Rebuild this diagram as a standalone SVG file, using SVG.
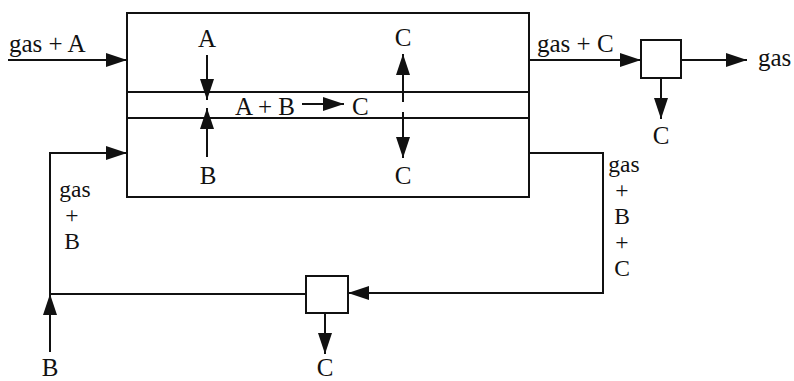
<svg xmlns="http://www.w3.org/2000/svg" width="794" height="381" viewBox="0 0 794 381">
<style>
.ln{fill:none;stroke:#111;stroke-width:2}
.bx{fill:#fff;stroke:#111;stroke-width:2}
text{font-family:'Liberation Serif','Times New Roman',serif;font-size:25px;fill:#111}
.m{text-anchor:middle}
.st{font-size:23.5px}
</style>
<defs>
<marker id="ah" markerUnits="userSpaceOnUse" markerWidth="22" markerHeight="16" refX="21" refY="8" orient="auto" viewBox="0 0 22 16">
<path d="M0,1 L21,8 L0,15 z" fill="#111"/>
</marker>
</defs>
<g id="reactor">
<rect class="bx" x="127" y="13" width="402" height="184"/>
<line class="ln" x1="127" y1="92" x2="529" y2="92"/>
<line class="ln" x1="127" y1="118" x2="529" y2="118"/>
</g>
<g id="separator1"><rect class="bx" x="641" y="40" width="40" height="38"/></g>
<g id="separator2"><rect class="bx" x="306" y="276" width="42" height="37"/></g>
<g id="connectors">
<path class="ln" d="M8,60 H127" marker-end="url(#ah)"/>
<path class="ln" d="M207,55 V100" marker-end="url(#ah)"/>
<path class="ln" d="M207,157 V108" marker-end="url(#ah)"/>
<path class="ln" d="M302,104 H344" marker-end="url(#ah)"/>
<path class="ln" d="M403,102 V54" marker-end="url(#ah)"/>
<path class="ln" d="M403,112 V158" marker-end="url(#ah)"/>
<path class="ln" d="M529,60 H641" marker-end="url(#ah)"/>
<path class="ln" d="M681,60 H747" marker-end="url(#ah)"/>
<path class="ln" d="M661,78 V119" marker-end="url(#ah)"/>
<path class="ln" d="M529,153 H603 V293 H348" marker-end="url(#ah)"/>
<path class="ln" d="M325,313 V354" marker-end="url(#ah)"/>
<path class="ln" d="M306,294 H50 V153 H127" marker-end="url(#ah)"/>
<path class="ln" d="M50,352 V294" marker-end="url(#ah)"/>
</g>
<g id="labels">
<text x="9" y="52">gas + A</text>
<text class="m" x="207" y="47">A</text>
<text class="m" x="208" y="184">B</text>
<text x="235" y="115">A + B</text>
<text x="352" y="115">C</text>
<text class="m" x="403" y="46">C</text>
<text class="m" x="403" y="184">C</text>
<text x="537" y="52">gas + C</text>
<text x="758" y="66">gas</text>
<text class="m" x="661" y="144">C</text>
<text class="m st"><tspan x="624" y="172">gas</tspan><tspan x="622" y="198">+</tspan><tspan x="622" y="224">B</tspan><tspan x="622" y="250">+</tspan><tspan x="622" y="276">C</tspan></text>
<text class="m st"><tspan x="75" y="197">gas</tspan><tspan x="72" y="223">+</tspan><tspan x="72" y="249">B</tspan></text>
<text class="m" x="50" y="376">B</text>
<text class="m" x="325" y="376">C</text>
</g>
</svg>
